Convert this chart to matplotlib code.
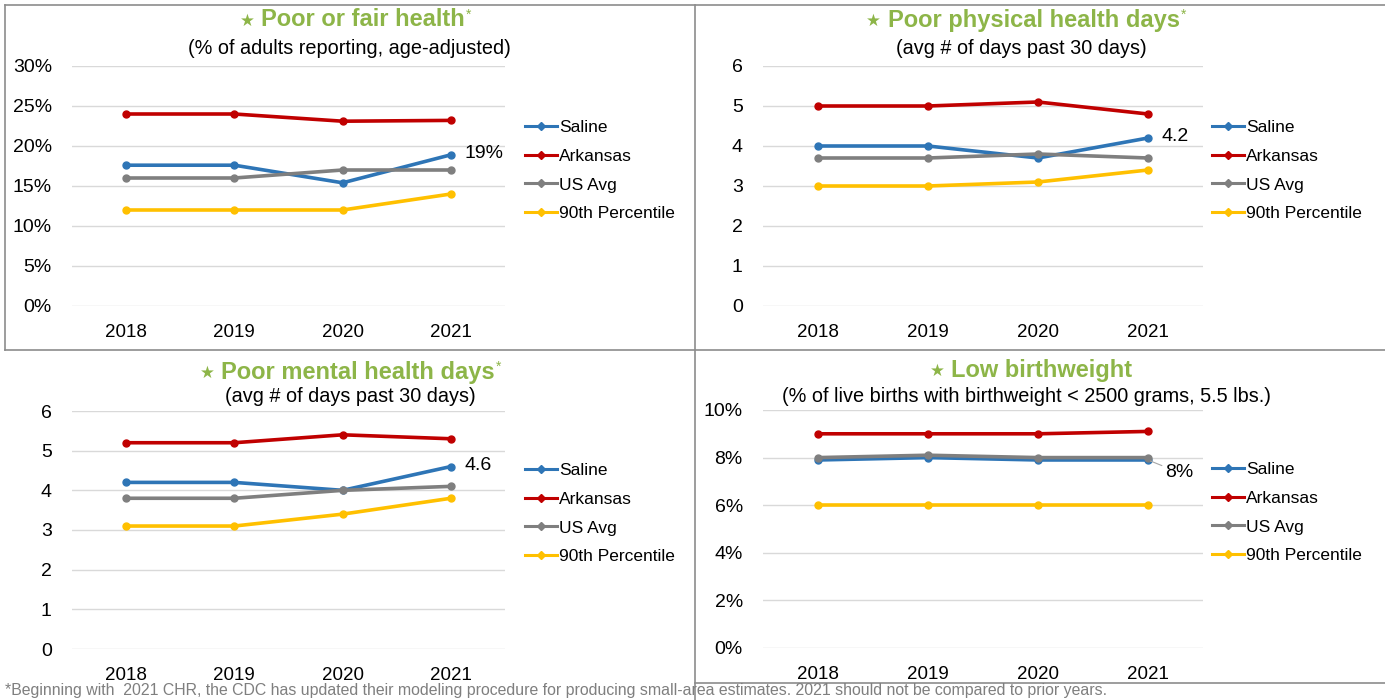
import matplotlib
matplotlib.use("Agg")
import matplotlib.pyplot as plt
from matplotlib.lines import Line2D

plt.rcParams['font.family'] = ['Liberation Sans', 'DejaVu Sans']

years = ["2018", "2019", "2020", "2021"]
series_names = ["Saline", "Arkansas", "US Avg", "90th Percentile"]

# Poor or fair health (%)
pfh_saline = [17.6, 17.6, 15.4, 18.9]
pfh_arkansas = [24.0, 24.0, 23.1, 23.2]
pfh_us = [16.0, 16.0, 17.0, 17.0]
pfh_p90 = [12.0, 12.0, 12.0, 14.0]

# Poor physical health days
pph_saline = [4.0, 4.0, 3.7, 4.2]
pph_arkansas = [5.0, 5.0, 5.1, 4.8]
pph_us = [3.7, 3.7, 3.8, 3.7]
pph_p90 = [3.0, 3.0, 3.1, 3.4]

# Poor mental health days
pmh_saline = [4.2, 4.2, 4.0, 4.6]
pmh_arkansas = [5.2, 5.2, 5.4, 5.3]
pmh_us = [3.8, 3.8, 4.0, 4.1]
pmh_p90 = [3.1, 3.1, 3.4, 3.8]

# Low birthweight (%)
lbw_saline = [7.9, 8.0, 7.9, 7.9]
lbw_arkansas = [9.0, 9.0, 9.0, 9.1]
lbw_us = [8.0, 8.1, 8.0, 8.0]
lbw_p90 = [6.0, 6.0, 6.0, 6.0]

colors = ["#2E75B6", "#C00000", "#7F7F7F", "#FFC000"]
title_green = "#8DB548"

W, H = 1385, 700
fig = plt.figure(figsize=(W / 100, H / 100), dpi=100)
renderer = fig.canvas.get_renderer()


def fx(px):
    return px / W


def fy(py):
    return 1 - py / H


def add_axes(x0, x1, ytop, ybot):
    return fig.add_axes([fx(x0), fy(ybot), fx(x1) - fx(x0), (ybot - ytop) / H])


def text_width(s, **kw):
    t = fig.text(0, 0, s, **kw)
    w = t.get_window_extent(renderer=renderer).width
    t.remove()
    return w


def draw_title(cx, cy, main, asterisk):
    star_kw = dict(fontsize=12, color=title_green, family="DejaVu Sans")
    main_kw = dict(fontsize=17, color=title_green, fontweight="bold")
    ast_kw = dict(fontsize=10, color=title_green)
    gap = 7
    ws = text_width("★", **star_kw)
    wm = text_width(main, **main_kw)
    wa = text_width("*", **ast_kw) if asterisk else 0
    total = ws + gap + wm + wa
    left = cx - total / 2
    fig.text(fx(left), fy(cy + 1), "★", ha="left", va="center", **star_kw)
    fig.text(fx(left + ws + gap), fy(cy), main, ha="left", va="center", **main_kw)
    if asterisk:
        fig.text(fx(left + ws + gap + wm + 1), fy(cy - 5), "*", ha="left", va="center", **ast_kw)


panels = [
    dict(box=(72, 505, 66, 306), ylim=(0, 30), ticks=[0, 5, 10, 15, 20, 25, 30], pct=True,
         data=[pfh_saline, pfh_arkansas, pfh_us, pfh_p90],
         title="Poor or fair health", ast=True, tpos=(355, 20),
         sub="(% of adults reporting, age-adjusted)", spos=(349, 48),
         label="19%", leg=(525, 120)),
    dict(box=(763, 1203, 66, 306), ylim=(0, 6), ticks=[0, 1, 2, 3, 4, 5, 6], pct=False,
         data=[pph_saline, pph_arkansas, pph_us, pph_p90],
         title="Poor physical health days", ast=True, tpos=(1026, 20),
         sub="(avg # of days past 30 days)", spos=(1021, 48),
         label="4.2", leg=(1212, 120)),
    dict(box=(72, 505, 411, 649), ylim=(0, 6), ticks=[0, 1, 2, 3, 4, 5, 6], pct=False,
         data=[pmh_saline, pmh_arkansas, pmh_us, pmh_p90],
         title="Poor mental health days", ast=True, tpos=(350, 372),
         sub="(avg # of days past 30 days)", spos=(350, 397),
         label="4.6", leg=(525, 463)),
    dict(box=(763, 1203, 410, 648), ylim=(0, 10), ticks=[0, 2, 4, 6, 8, 10], pct=True,
         data=[lbw_saline, lbw_arkansas, lbw_us, lbw_p90],
         title="Low birthweight", ast=False, tpos=(1031, 370),
         sub="(% of live births with birthweight < 2500 grams, 5.5 lbs.)", spos=(1026, 397),
         label="8%", leg=(1212, 462)),
]

x = list(range(len(years)))

for p in panels:
    x0, x1, yt, yb = p["box"]
    ax = add_axes(x0, x1, yt, yb)
    ax.set_xlim(-0.5, len(years) - 0.5)
    ax.set_ylim(*p["ylim"])
    ax.set_yticks(p["ticks"])
    if p["pct"]:
        ax.set_yticklabels([f"{t}%" for t in p["ticks"]])
    ax.set_xticks(x)
    ax.set_xticklabels(years)
    for s in ax.spines.values():
        s.set_visible(False)
    ax.tick_params(axis='both', length=0, colors="#000000")
    ax.tick_params(axis='y', pad=14.5, labelsize=14)
    ax.tick_params(axis='x', pad=13, labelsize=13.5)
    ax.grid(axis='y', color="#D9D9D9", linewidth=1)
    ax.set_axisbelow(True)
    for vals, c, name in zip(p["data"], colors, series_names):
        ax.plot(x, vals, color=c, linewidth=2.6, marker='o', markersize=5,
                label=name, zorder=3)
    sal = p["data"][0]
    if p["label"] == "8%":
        ax.annotate(p["label"], xy=(x[-1], sal[-1]), xytext=(12, -9), textcoords="offset points",
                    fontsize=14, va="center", ha="left",
                    arrowprops=dict(arrowstyle="-", color="#A6A6A6", lw=0.8, shrinkA=0, shrinkB=2))
    else:
        ax.annotate(p["label"], xy=(x[-1], sal[-1]), xytext=(10, 1), textcoords="offset points",
                    fontsize=14, va="center", ha="left")
    leg_handles = [Line2D([0], [0], color=c, lw=2.2, marker='D', markersize=4) for c in colors]
    fig.legend(leg_handles, series_names, loc="upper left",
               bbox_to_anchor=(fx(p["leg"][0]), fy(p["leg"][1])), frameon=False,
               fontsize=12.5, handlelength=1.85, handletextpad=0.1, labelspacing=0.78,
               borderpad=0, borderaxespad=0)
    draw_title(p["tpos"][0], p["tpos"][1], p["title"], p["ast"])
    fig.text(fx(p["spos"][0]), fy(p["spos"][1]), p["sub"], color="#000000",
             fontsize=14.3, ha="center", va="center")

# Panel borders
border = dict(color="#8C8C8C", linewidth=1.2, transform=fig.transFigure)
lines = [
    ((5, 1385), (5, 5)),
    ((5, 5), (5, 350)),
    ((5, 1385), (350, 350)),
    ((695, 695), (5, 700)),
    ((695, 1385), (683, 683)),
]
for (xa, xb), (ya, yb2) in lines:
    fig.add_artist(Line2D([fx(xa), fx(xb)], [fy(ya), fy(yb2)], **border))

fig.text(fx(5), fy(691),
         "*Beginning with  2021 CHR, the CDC has updated their modeling procedure for producing "
         "small-area estimates. 2021 should not be compared to prior years.",
         color="#7F7F7F", fontsize=11.4, ha="left", va="center")

fig.savefig("out.png", dpi=100)
